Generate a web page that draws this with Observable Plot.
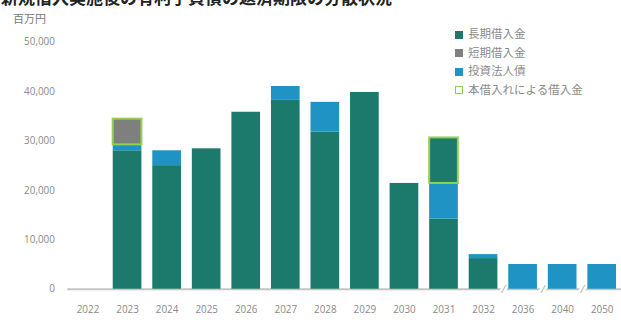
<!DOCTYPE html>
<html>
<head>
<meta charset="utf-8">
<script src="https://cdn.jsdelivr.net/npm/d3@7"></script>
<script src="https://cdn.jsdelivr.net/npm/@observablehq/plot@0.6"></script>
<style>
  html, body { margin: 0; padding: 0; background: #fff; }
  #wrap { position: relative; width: 621px; height: 320px; overflow: hidden; background: #fff;
          font-family: "Noto Sans CJK JP", "Open Sans", sans-serif; }
  #title { position: absolute; left: 1px; top: -13px; font-size: 17px; line-height: 20px; font-weight: bold; color: #222; white-space: nowrap; }
  #unit { position: absolute; left: 13px; top: 11px; font-size: 11px; line-height: 14px; color: #777; }
  #chart { position: absolute; left: 0; top: 0; }
  #legend { position: absolute; left: 455px; top: 24px; font-size: 11.5px; color: #8a8a8a; line-height: 18.5px; }
  #legend .sw { display: inline-block; width: 8px; height: 8px; margin-right: 5px; vertical-align: -0.5px; box-sizing: border-box; }
</style>
</head>
<body>
<div id="wrap">
  <div id="title">新規借入実施後の有利子負債の返済期限の分散状況</div>
  <div id="unit">百万円</div>
  <div id="chart"></div>
  <div id="legend"></div>
</div>
<script>
// ---- data (百万円) ----
const years = ["2022","2023","2024","2025","2026","2027","2028","2029","2030","2031","2032","2036","2040","2050"];
const longTerm      = [0, 28000, 25000, 28400, 35800, 38200, 31800, 39800, 21400, 14200, 6200, 0, 0, 0];
const bonds         = [0, 1200, 3000, 0, 0, 2800, 6000, 0, 0, 7200, 800, 5000, 5000, 5000];
const shortTermNew  = [0, 5200, 0, 0, 0, 0, 0, 0, 0, 0, 0, 0, 0, 0];
const longTermNew   = [0, 0, 0, 0, 0, 0, 0, 0, 0, 9200, 0, 0, 0, 0];
const yTicks = [0, 10000, 20000, 30000, 40000, 50000];
const brokenYears = ["2036", "2040", "2050"];

const seriesNames = ["長期借入金", "短期借入金", "投資法人債", "本借入れによる借入金"];
const seriesColors = ["#1b7a6c", "#7f7f7f", "#1f93c4", "#92d050"];

const rows = [];
years.forEach((yr, i) => {
  rows.push({year: yr, series: "長期借入金", value: longTerm[i], isNew: 0});
  rows.push({year: yr, series: "投資法人債", value: bonds[i], isNew: 0});
  rows.push({year: yr, series: "短期借入金", value: shortTermNew[i], isNew: 1});
  rows.push({year: yr, series: "長期借入金", value: longTermNew[i], isNew: 1});
});
const data = rows.filter(d => d.value > 0);

const chart = Plot.plot({
  width: 628,
  height: 320,
  marginLeft: 68,
  marginRight: 0,
  marginTop: 42,
  marginBottom: 28,
  style: {fontFamily: "'Open Sans', 'Noto Sans CJK JP', sans-serif", fontSize: "10px", color: "#8a8a8a", background: "transparent"},
  x: {domain: years, paddingInner: 0.28, paddingOuter: 0.14, label: null, tickSize: 0, tickPadding: 17},
  y: {domain: [0, 50000], ticks: yTicks, tickFormat: d3.format(","), label: null, tickSize: 0, tickPadding: 13},
  color: {domain: seriesNames.slice(0, 3), range: seriesColors.slice(0, 3)},
  marks: [
    Plot.ruleY([0], {stroke: "#c4c4c4", strokeWidth: 2}),
    Plot.text(brokenYears, {x: d => d, y: () => 0, dx: -20, text: () => "/", fill: "#aaa", stroke: "white", strokeWidth: 5, fontSize: 11, fontStyle: "italic"}),
    Plot.barY(data, Plot.stackY({order: null}, {x: "year", y: "value", fill: "series"})),
    Plot.barY(data, Plot.stackY({order: null}, {x: "year", y: "value", fill: "none", stroke: seriesColors[3], strokeWidth: 2, strokeOpacity: "isNew"}))
  ]
});
document.getElementById("chart").appendChild(chart);

const legend = document.getElementById("legend");
seriesNames.forEach((name, i) => {
  const row = document.createElement("div");
  const sw = document.createElement("span");
  sw.className = "sw";
  if (i === 3) { sw.style.border = "1.5px solid " + seriesColors[3]; sw.style.background = "#fff"; }
  else sw.style.background = seriesColors[i];
  row.appendChild(sw);
  row.appendChild(document.createTextNode(name));
  legend.appendChild(row);
});
</script>
</body>
</html>
